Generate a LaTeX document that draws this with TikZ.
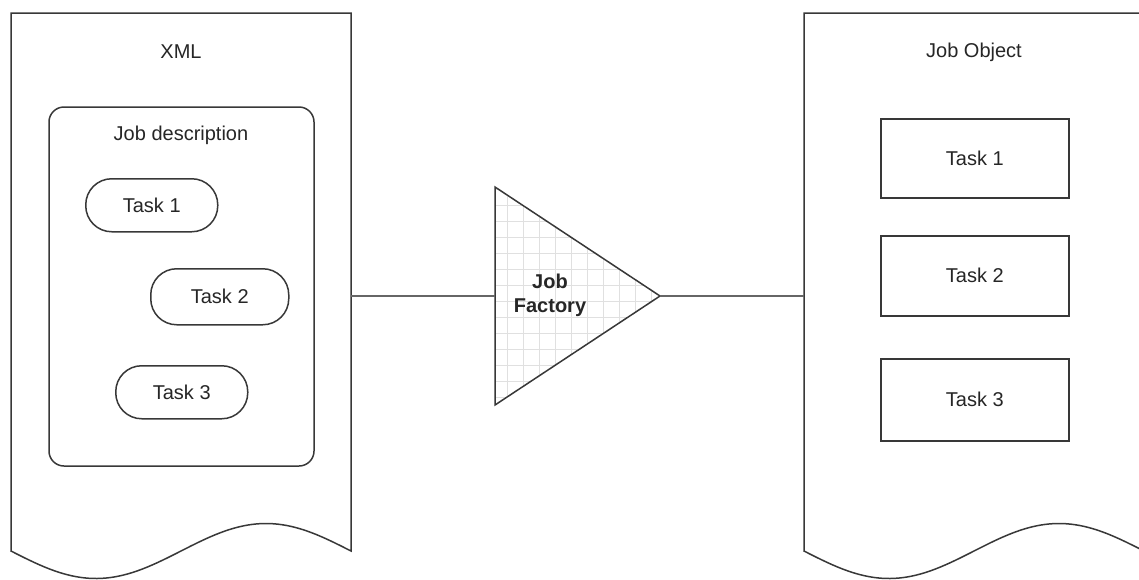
\documentclass[tikz,border=0pt]{standalone}
\usepackage{fontspec}
\setmainfont{Liberation Sans}
\begin{document}
\begin{tikzpicture}[x=1pt,y=-1pt,
  outline/.style={draw=black!78, line width=1.5pt, fill=white},
  conn/.style={draw=black!60, line width=2.8pt},
  lbl/.style={font=\fontsize{20}{24}\selectfont, text=black!85, inner sep=0pt},
  pill/.style={outline, rounded corners=26pt, anchor=north west, inner sep=0pt, lbl},
  taskbox/.style={outline, anchor=north west, inner sep=0pt, lbl},
  docwave/.style={outline, line join=miter}
]
\useasboundingbox (0,0) rectangle (1139,579);
\clip (0,0) rectangle (1139,579);

% document shapes with a sine-wave bottom edge (one period over the width)
\foreach \dx in {0,793}{
  \draw[docwave] (11+\dx,551) -- (11+\dx,13) -- (351+\dx,13) -- (351+\dx,551)
    -- plot[domain=340:0, samples=80, smooth] ({\x+11+\dx}, {551+27.5*sin(\x*1.0588235)})
    -- cycle;
}
\coordinate (xmlR) at (351,296);
\coordinate (objL) at (804,296);
\node[lbl] (xmltitle) at (181,52) {XML};
\node[lbl] (objtitle) at (974,52) {Job Object};

% job description container
\draw[outline, rounded corners=15pt] (49,107) rectangle (314,466);
\node[lbl] (jobdesc) at (181,135) {Job description};

% task pills
\node[pill, minimum width=132pt, minimum height=53pt] (t1) at (85,178) {Task 1};
\node[pill, minimum width=138pt, minimum height=56pt] (t2) at (150,268) {Task 2};
\node[pill, minimum width=132pt, minimum height=53pt] (t3) at (115,365) {Task 3};

% task boxes of the job object
\node[taskbox, minimum width=188pt, minimum height=79pt] (o1) at (880,118) {Task 1};
\node[taskbox, minimum width=188pt, minimum height=80pt] (o2) at (880,235) {Task 2};
\node[taskbox, minimum width=188pt, minimum height=82pt] (o3) at (880,358) {Task 3};

% job factory triangle with grid fill
\coordinate (facL) at (495,296);
\coordinate (facR) at (660,296);
\fill[white] (495,187) -- (660,296) -- (495,405) -- cycle;
\begin{scope}
  \clip (495,187) -- (660,296) -- (495,405) -- cycle;
  \foreach \gx in {507,523,...,660} \draw[black!12, line width=1pt] (\gx,180) -- (\gx,410);
  \foreach \gy in {189,205,...,405} \draw[black!12, line width=1pt] (490,\gy) -- (665,\gy);
\end{scope}
\draw[draw=black!78, line width=1.5pt, line join=miter] (495,187) -- (660,296) -- (495,405) -- cycle;
\node[lbl, font=\fontsize{20}{24}\selectfont\bfseries, align=center] (factory) at (550,295) {Job\\Factory};

% connectors
\draw[conn] (xmlR) -- (facL);
\draw[conn] (facR) -- (objL);
\end{tikzpicture}
\end{document}
